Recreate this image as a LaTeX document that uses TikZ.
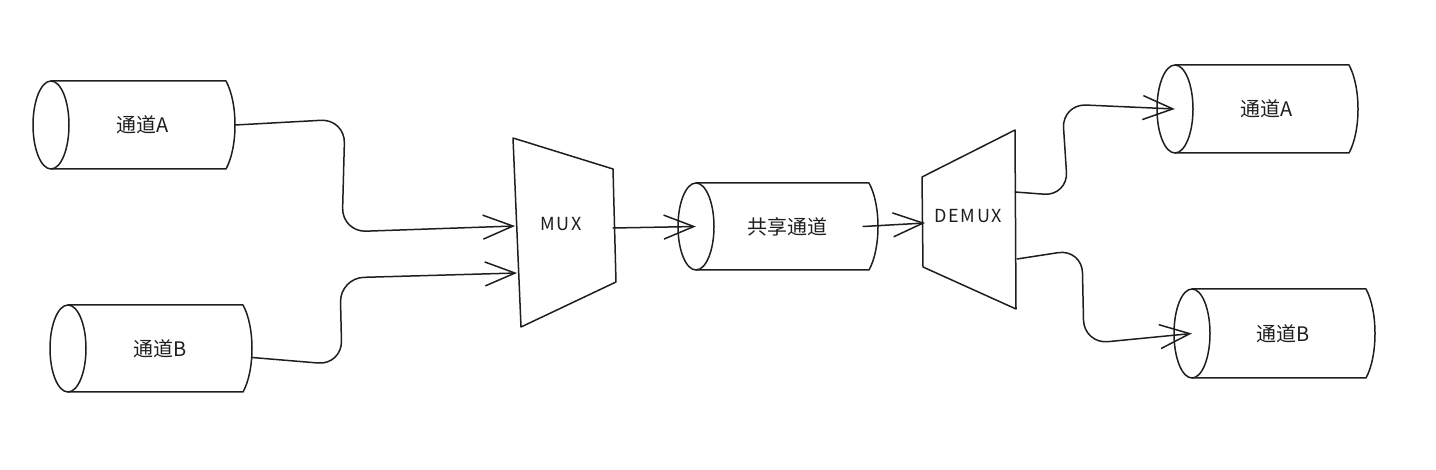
\documentclass[tikz,border=0pt]{standalone}
\usepackage{fontspec}
\setmainfont{Noto Sans CJK SC}
\newfontfamily\handfont[LetterSpace=10]{Noto Sans CJK SC}
\usetikzlibrary{arrows.meta,calc}
\definecolor{ink}{HTML}{1E1E1E}
\tikzset{
  sk/.style={draw=ink, line width=1.5pt, line join=round, line cap=round},
  cylbody/.style={inner sep=0pt, font=\fontsize{20}{24}\selectfont, text=ink},
  muxlbl/.style={inner sep=0pt, font=\handfont\fontsize{18}{21}\selectfont, text=ink},
  conn/.style={sk, rounded corners=24pt, -{Straight Barb[length=30pt,width=24pt,line width=1.5pt]}},
}
% #1 name, #2 ellipse centre x, #3 top y, #4 bottom y, #5 right x, #6 text
\newcommand\mycyl[6]{%
  \node[cylbody, minimum width={(#5+9-#2)*1pt}, minimum height={(#4-#3)*1pt}]
    (#1) at ({(#2+#5+9)/2},{(#3+#4)/2}) {#6};
  \draw[sk] ({#2},{(#3+#4)/2}) ellipse [x radius=18pt, y radius={(#4-#3)/2*1pt}];
  \draw[sk] (#2,#3) -- (#5,#3)
     .. controls ({#5+12},{#3+(#4-#3)*0.25}) and ({#5+12},{#4-(#4-#3)*0.25}) .. (#5,#4)
     -- (#2,#4);
}
\begin{document}
\begin{tikzpicture}[x=1pt,y=-1pt]
\useasboundingbox (0,0) rectangle (1436,470);
% cylinders
\mycyl{la}{51}{81}{169}{226}{通道A}
\mycyl{lb}{68}{305}{392}{243}{通道B}
\mycyl{sh}{696}{183}{270}{869}{共享通道}
\mycyl{ra}{1175}{65}{153}{1349}{通道A}
\mycyl{rb}{1192}{289}{378}{1366}{通道B}
% MUX
\draw[sk] (513,138) -- (613,169) -- (616,282) -- (521,327) -- cycle;
\node[muxlbl] (mux) at (561,224) {MUX};
\coordinate (mux-in1) at (515,226);
\coordinate (mux-in2) at (517,273);
\coordinate (mux-out) at (613,228);
% DEMUX
\draw[sk] (922,177) -- (1015,130) -- (1016,309) -- (923,267) -- cycle;
\node[muxlbl] (demux) at (968,216) {DEMUX};
\coordinate (demux-in) at (925,223);
\coordinate (demux-out1) at (1015,192);
\coordinate (demux-out2) at (1017,259);
% connectors
\draw[conn] (la.east) -- (345,119) -- (342,232) -- (mux-in1);
\draw[conn] ($(lb.east)+(0,9)$) -- (342,365) -- (340,278) -- (mux-in2);
\draw[conn] (mux-out) -- (sh.west);
\draw[conn] ($(sh.east)+(-15,0)$) -- (demux-in);
\draw[conn] (demux-out1) -- (1068,196) -- (1062,104) -- (ra.west);
\draw[conn] (demux-out2) -- (1082,249) -- (1084,344) -- (rb.west);
\end{tikzpicture}
\end{document}
